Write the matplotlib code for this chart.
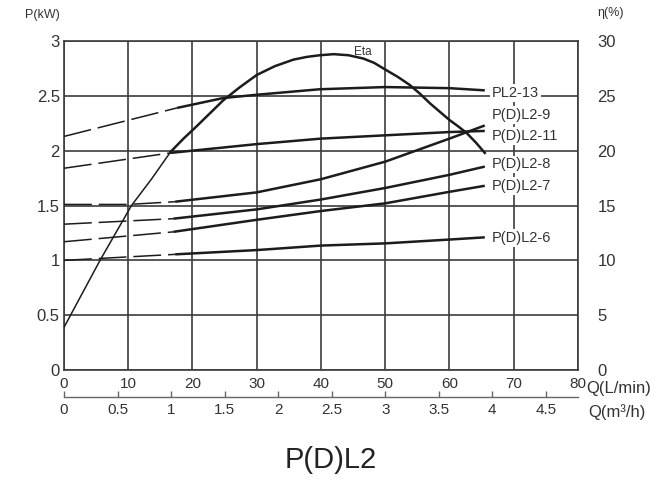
import matplotlib
matplotlib.use('Agg')
import matplotlib.pyplot as plt

plt.rcParams['font.family'] = ['Liberation Sans', 'DejaVu Sans']
plt.rcParams['lines.scale_dashes'] = False

# ---- axis ticks ----
q_lpm_ticks = [0, 10, 20, 30, 40, 50, 60, 70, 80]
p_ticks = [0, 0.5, 1, 1.5, 2, 2.5, 3]
p_tick_labels = ['0', '0.5', '1', '1.5', '2', '2.5', '3']
eta_ticks = [0, 5, 10, 15, 20, 25, 30]
q_m3h_ticks = [0, 0.5, 1, 1.5, 2, 2.5, 3, 3.5, 4, 4.5]
q_m3h_labels = ['0', '0.5', '1', '1.5', '2', '2.5', '3', '3.5', '4', '4.5']

# ---- power curves (Q in L/min, P in kW) ----
names = ['PL2-13', 'P(D)L2-9', 'P(D)L2-11', 'P(D)L2-8', 'P(D)L2-7', 'P(D)L2-6']

pl2_13_dash_q = [0, 17.6]
pl2_13_dash_p = [2.13, 2.39]
pl2_13_q = [17.6, 24.8, 30, 39.8, 50, 60, 65.5]
pl2_13_p = [2.39, 2.48, 2.51, 2.56, 2.58, 2.57, 2.55]

pdl2_9_dash_q = [0, 10, 17.3]
pdl2_9_dash_p = [1.51, 1.51, 1.535]
pdl2_9_q = [17.3, 30, 40, 50, 60, 65.5]
pdl2_9_p = [1.535, 1.62, 1.74, 1.90, 2.11, 2.23]

pdl2_11_dash_q = [0, 16.6]
pdl2_11_dash_p = [1.84, 1.98]
pdl2_11_q = [16.6, 30, 40, 50, 60, 65.5]
pdl2_11_p = [1.98, 2.06, 2.11, 2.14, 2.17, 2.18]

pdl2_8_dash_q = [0, 17]
pdl2_8_dash_p = [1.33, 1.38]
pdl2_8_q = [17, 30, 40, 50, 60, 65.5]
pdl2_8_p = [1.38, 1.465, 1.555, 1.66, 1.78, 1.855]

pdl2_7_dash_q = [0, 17]
pdl2_7_dash_p = [1.17, 1.26]
pdl2_7_q = [17, 30, 40, 50, 60, 65.5]
pdl2_7_p = [1.26, 1.37, 1.45, 1.52, 1.625, 1.68]

pdl2_6_dash_q = [0, 17.3]
pdl2_6_dash_p = [1.0, 1.055]
pdl2_6_q = [17.3, 30, 40, 50, 60, 65.5]
pdl2_6_p = [1.055, 1.094, 1.135, 1.155, 1.19, 1.21]

# ---- efficiency curve (Q in L/min, eta in %) ----
eta_thin_q = [0, 5.6, 10.5, 13.6, 16.6]
eta_thin_v = [3.9, 10.0, 15.0, 17.4, 19.9]
eta_q = [16.6, 18.6, 20.6, 22.7, 24.8, 27.4, 30, 32.8, 35.7, 37.8, 39.8, 42, 44.3,
         46.6, 48.3, 50, 51.9, 53.8, 55.4, 57, 58.5, 60, 61.4, 62.7, 64.1, 65.5]
eta_v = [19.9, 21.1, 22.2, 23.4, 24.6, 25.8, 26.9, 27.7, 28.3, 28.55, 28.7, 28.8, 28.7,
         28.4, 28.0, 27.4, 26.75, 26.0, 25.2, 24.3, 23.55, 22.8, 22.2, 21.6, 20.75, 19.8]

series = [
    (pl2_13_dash_q, pl2_13_dash_p, pl2_13_q, pl2_13_p),
    (pdl2_9_dash_q, pdl2_9_dash_p, pdl2_9_q, pdl2_9_p),
    (pdl2_11_dash_q, pdl2_11_dash_p, pdl2_11_q, pdl2_11_p),
    (pdl2_8_dash_q, pdl2_8_dash_p, pdl2_8_q, pdl2_8_p),
    (pdl2_7_dash_q, pdl2_7_dash_p, pdl2_7_q, pdl2_7_p),
    (pdl2_6_dash_q, pdl2_6_dash_p, pdl2_6_q, pdl2_6_p),
]
label_offsets = [-0.025, 0.095, -0.045, 0.02, 0.0, -0.005]

grid_c = '#3c3c3c'
curve_c = '#1c1c1c'
text_c = '#333333'

fig = plt.figure(figsize=(6.58, 4.80), dpi=100)
ax = fig.add_axes([0.0973, 0.229, 0.781, 0.6856])
ax.set_xlim(0, 80)
ax.set_ylim(0, 3)
ax.set_xticks(q_lpm_ticks)
ax.set_yticks(p_ticks)
ax.set_yticklabels(p_tick_labels)
ax.grid(True, color=grid_c, linewidth=1.2)
ax.set_axisbelow(True)
for s in ax.spines.values():
    s.set_color(grid_c)
    s.set_linewidth(1.2)
ax.tick_params(axis='x', length=0, pad=5, labelsize=11, labelcolor=text_c)
ax.tick_params(axis='y', length=0, pad=3, labelsize=12, labelcolor=text_c)

for (dq, dp, q, p), name, off in zip(series, names, label_offsets):
    ax.plot(dq, dp, color=curve_c, linewidth=1.1, dashes=(20, 5), zorder=3)
    ax.plot(q, p, color=curve_c, linewidth=1.8, zorder=3, solid_capstyle='butt')
    ax.text(66.6, p[-1] + off, name, fontsize=10.5, color=text_c, ha='left', va='center',
            zorder=5, bbox=dict(boxstyle='square,pad=0.12', fc='white', ec='none'))

ax2 = ax.twinx()
ax2.set_ylim(0, 30)
ax2.set_yticks(eta_ticks)
ax2.tick_params(axis='y', length=0, pad=14, labelsize=12, labelcolor=text_c)
for s in ax2.spines.values():
    s.set_visible(False)
ax2.plot(eta_thin_q, eta_thin_v, color=curve_c, linewidth=1.1, zorder=3)
ax2.plot(eta_q, eta_v, color=curve_c, linewidth=1.8, zorder=3, solid_joinstyle='round')
ax2.text(46.5, 29.0, 'Eta', fontsize=8.5, color=text_c, ha='center', va='center')

sec = ax.secondary_xaxis(-0.082, functions=(lambda q: q * 0.06, lambda m: m / 0.06))
sec.set_xticks(q_m3h_ticks)
sec.set_xticklabels(q_m3h_labels)
sec.tick_params(direction='in', length=4, width=1, color='#666666', labelsize=11,
                labelcolor=text_c, pad=4)
sec.spines['bottom'].set_color('#666666')
sec.spines['bottom'].set_linewidth(1.0)

fig.text(25 / 658, 1 - 15 / 480, 'P(kW)', fontsize=9, color=text_c, ha='left', va='center')
fig.text(597 / 658, 1 - 13 / 480, 'η(%)', fontsize=9, color=text_c, ha='left', va='center')
fig.text(586 / 658, 1 - 388 / 480, 'Q(L/min)', fontsize=12, color=text_c, ha='left', va='center')
fig.text(588 / 658, 1 - 412 / 480, 'Q(m³/h)', fontsize=12, color=text_c, ha='left', va='center')
fig.text(331 / 658, 1 - 460 / 480, 'P(D)L2', fontsize=21, color='#222222', ha='center', va='center')

fig.savefig('out.png', dpi=100, facecolor='white')
